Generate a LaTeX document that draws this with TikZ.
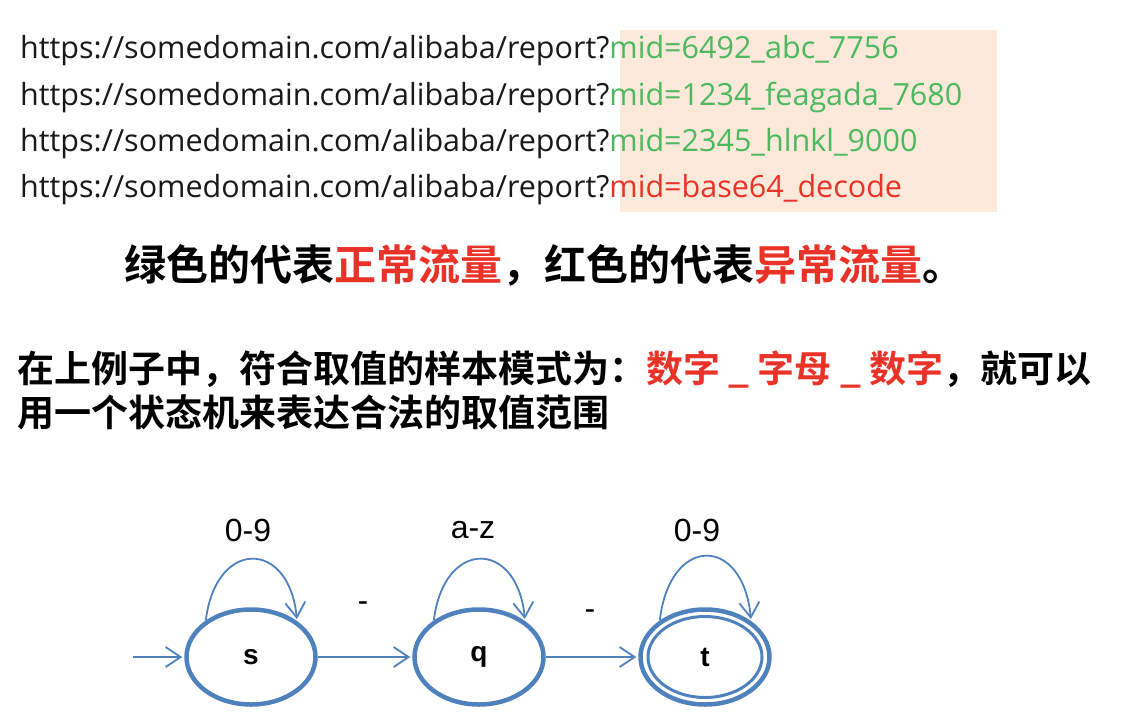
\documentclass[tikz,border=0pt]{standalone}
\usepackage{fontspec}
\usetikzlibrary{arrows.meta,shapes.geometric}
\setmainfont{Open Sans}
\newfontfamily\cjk{Noto Sans CJK SC Bold}
\newfontfamily\arial{Liberation Sans}
\definecolor{okgreen}{RGB}{76,184,96}
\definecolor{badred}{RGB}{234,51,40}
\definecolor{peach}{RGB}{252,233,218}
\definecolor{fsm}{RGB}{79,129,189}
\begin{document}
\begin{tikzpicture}[x=1pt,y=-1pt,
  url/.style={anchor=base west, inner sep=0pt, text=black!90, font=\fontsize{30.5}{34}\selectfont},
  cjkline/.style={inner sep=0pt, font=\cjk\fontsize{37}{37}\selectfont},
  state/.style={ellipse, draw=fsm, line width=4.5pt, minimum width=129pt, minimum height=95pt, inner sep=0pt, font=\arial\bfseries\fontsize{28}{28}\selectfont},
  innerstate/.style={ellipse, draw=fsm, line width=3pt, minimum width=114pt, minimum height=81pt, inner sep=0pt, font=\arial\bfseries\fontsize{28}{28}\selectfont},
  edge/.style={draw=fsm, line width=1.8pt, -{Straight Barb[length=15pt,width=20pt,line width=1.8pt]}, shorten >=2pt},
  lbl/.style={inner sep=0pt, font=\arial\fontsize{32}{32}\selectfont}
]
\useasboundingbox (0,0) rectangle (1124,726);
\fill[peach] (620,30) rectangle (997,212);

\node[url] (u1) at (20,58) {https://somedomain.com/alibaba/report?\textcolor{okgreen}{mid=6492\_abc\_7756}};
\node[url] (u2) at (20,105) {https://somedomain.com/alibaba/report?\textcolor{okgreen}{mid=1234\_feagada\_7680}};
\node[url] (u3) at (20,151) {https://somedomain.com/alibaba/report?\textcolor{okgreen}{mid=2345\_hlnkl\_9000}};
\node[url] (u4) at (20,197) {https://somedomain.com/alibaba/report?\textcolor{badred}{mid=base64\_decode}};

\node[cjkline, font=\cjk\fontsize{42}{42}\selectfont] (title) at (544,265) {绿色的代表\textcolor{badred}{正常流量}，红色的代表\textcolor{badred}{异常流量}。};
\node[cjkline, anchor=west] (p1) at (17,370) {在上例子中，符合取值的样本模式为：\textcolor{badred}{数字 \_ 字母 \_ 数字}，就可以};
\node[cjkline, anchor=west] (p2) at (17,412) {用一个状态机来表达合法的取值范围};

\node[state] (s) at (251,657) {s};
\node[state] (q) at (479,657) {q};
\node[state] (t) at (705,657) {};
\node[innerstate] (tin) at (t) {t};

\coordinate (init) at (133,657);
\draw[edge] (init) -- (s);
\draw[edge] (s) -- (q);
\draw[edge] (q) -- (t);

\draw[edge] (s.141) .. controls +(10,-82) and +(-8,-82) .. (s.38);
\draw[edge] (q.141) .. controls +(10,-82) and +(-8,-82) .. (q.38);
\draw[edge] (t.141) .. controls +(10,-86) and +(-8,-86) .. (t.38);

\node[lbl] (l1) at (248,530) {0-9};
\node[lbl] (l2) at (473,530) {a-z};
\node[lbl] (l3) at (697,530) {0-9};
\node[lbl] (d1) at (363,607) {-};
\node[lbl] (d2) at (590,615) {-};
\end{tikzpicture}
\end{document}
